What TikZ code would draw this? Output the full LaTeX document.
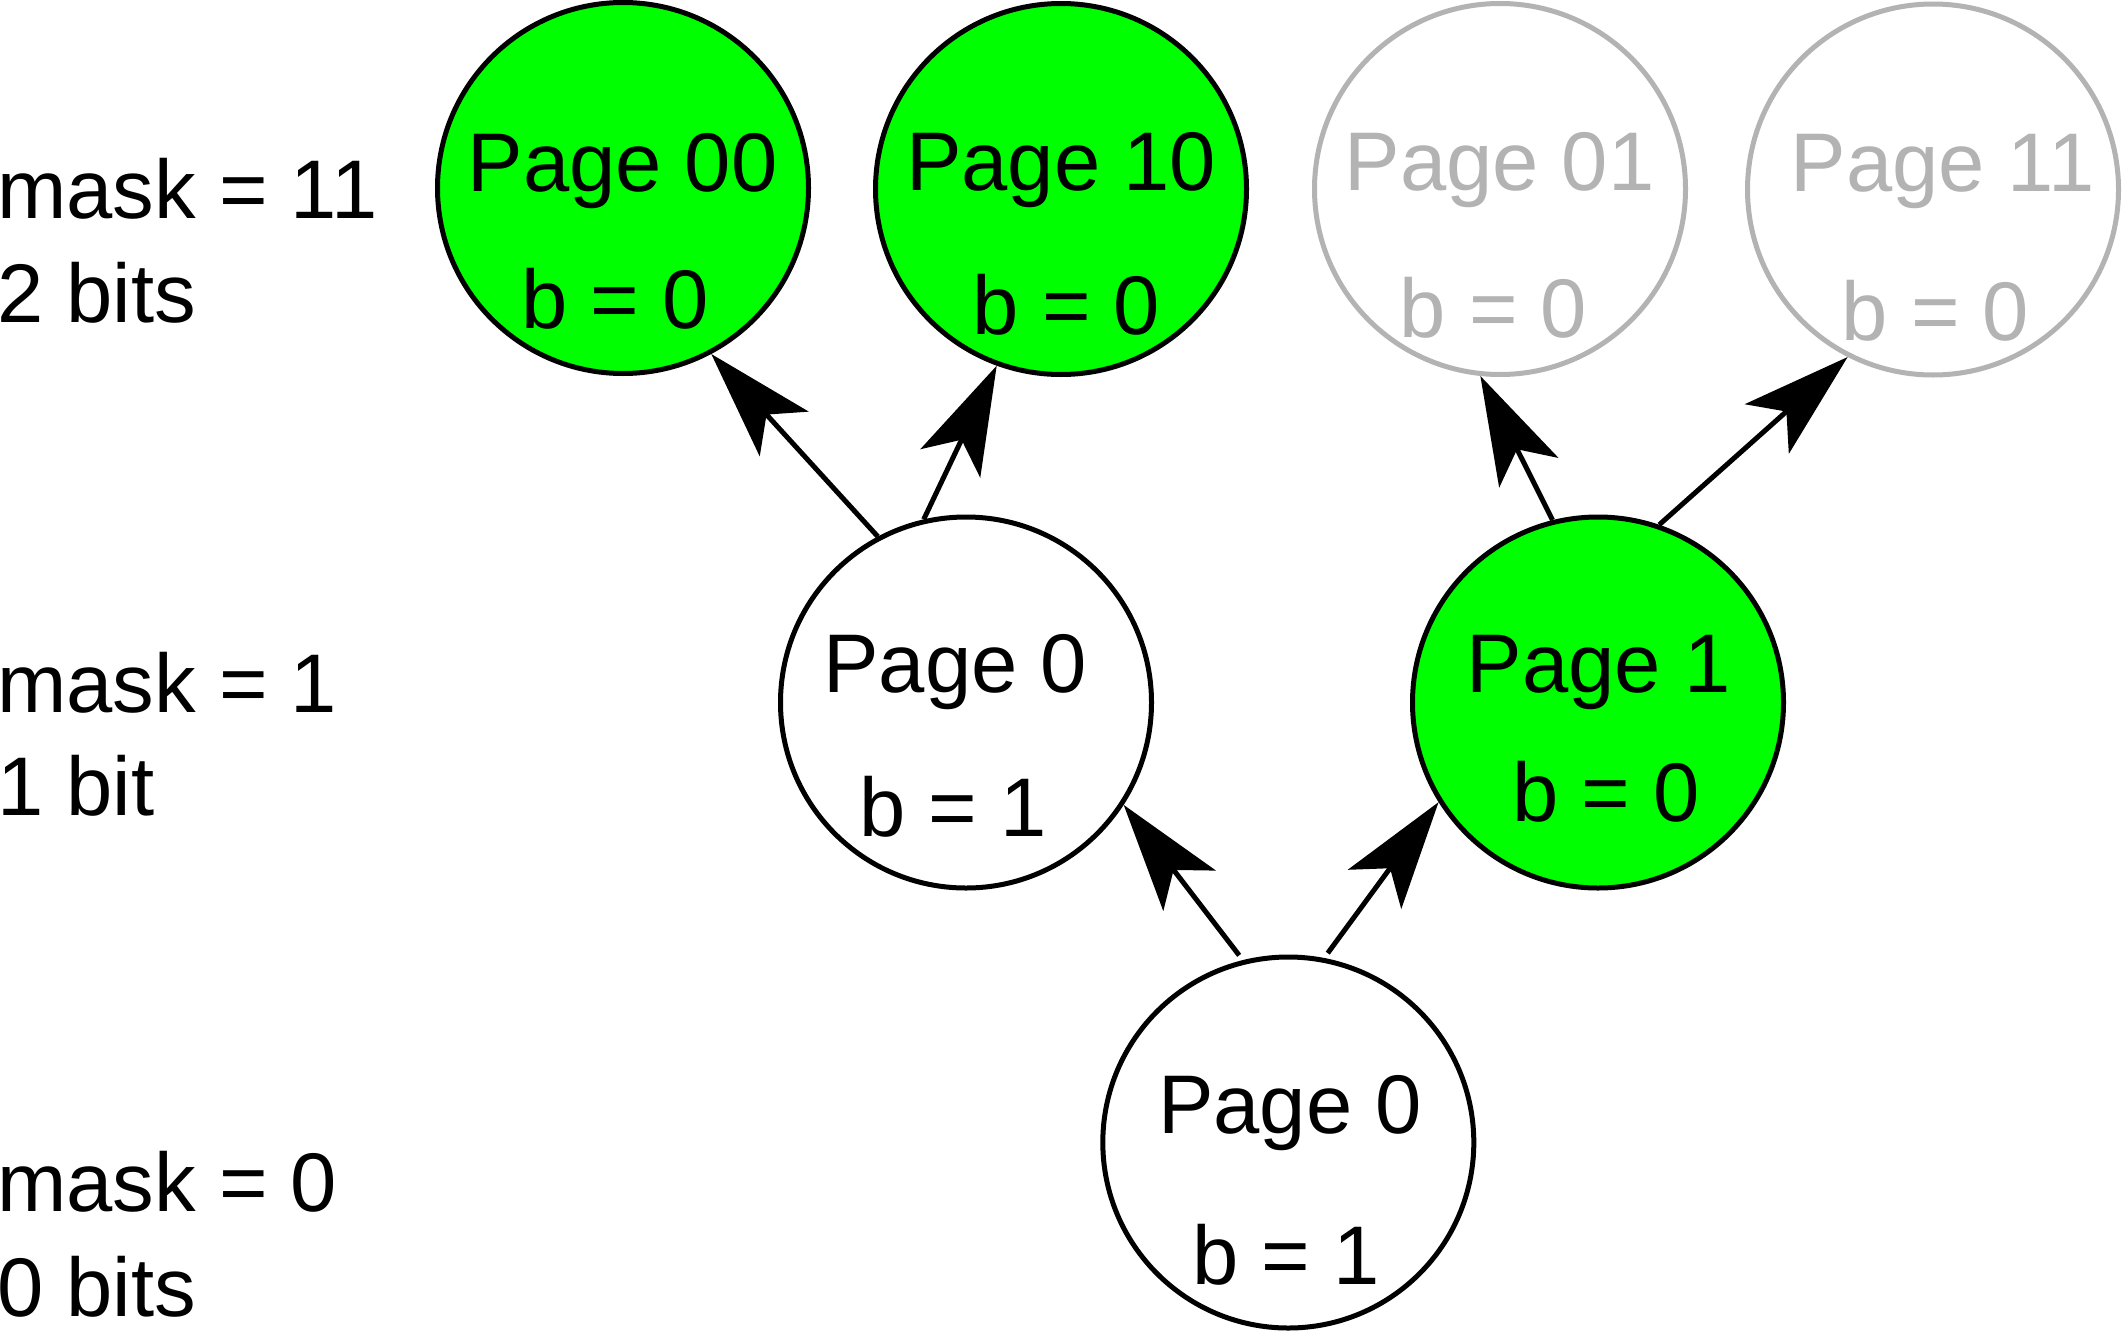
\documentclass[tikz,border=0pt]{standalone}
\usepackage{fontspec}
\setmainfont{Liberation Sans}
\usetikzlibrary{arrows.meta,calc}
\definecolor{pgreen}{HTML}{00FF00}
\definecolor{pgray}{HTML}{B3B3B3}
\begin{document}
\begin{tikzpicture}[x=0.5pt,y=-0.5pt,
  pagecirc/.style={circle,draw=black,line width=2.5pt,minimum size=185.5pt,inner sep=0pt},
  active/.style={pagecirc,fill=pgreen},
  plain/.style={pagecirc,fill=white},
  ghost/.style={pagecirc,draw=pgray,fill=white},
  txt/.style={font=\fontsize{41.6pt}{49pt}\selectfont,inner sep=0pt,anchor=base},
  gtxt/.style={txt,text=pgray},
  lbl/.style={font=\fontsize{41.6pt}{49pt}\selectfont,inner sep=0pt,anchor=base west},
  arr/.style={line width=2.5pt,-{Stealth[length=54pt,width=33pt,inset=13pt]}}
]
\useasboundingbox (0,0) rectangle (2124,1333);
\fill[white] (0,0) rectangle (2124,1333);

% circles
\node[active] (p00) at (623,188) {};
\node[active] (p10) at (1061,189) {};
\node[ghost]  (p01) at (1500,189) {};
\node[ghost]  (p11) at (1933,189.5) {};
\node[plain]  (m0)  at (966,702.5) {};
\node[active] (p1)  at (1598,702.5) {};
\node[plain]  (b0)  at (1288.3,1142.5) {};

% texts in circles
\node[txt] (p00a) at (622.5,191.7) {Page 00};
\node[txt] (p00b) at (615,328) {b = 0};
\node[txt] (p10a) at (1061,190.7) {Page 10};
\node[txt] (p10b) at (1066.6,334) {b = 0};
\node[gtxt] (p01a) at (1499.5,190.7) {Page 01};
\node[gtxt] (p01b) at (1493.5,337) {b = 0};
\node[gtxt] (p11a) at (1942.5,191.7) {Page 11};
\node[gtxt] (p11b) at (1935.5,340.7) {b = 0};
\node[txt] (m0a) at (955.3,692.7) {Page 0};
\node[txt] (m0b) at (953,836.7) {b = 1};
\node[txt] (p1a) at (1598.8,692.7) {Page 1};
\node[txt] (p1b) at (1606,821.7) {b = 0};
\node[txt] (b0a) at (1290,1133.3) {Page 0};
\node[txt] (b0b) at (1286.3,1284.3) {b = 1};

% left labels
\node[lbl] (l1a) at (-3,218.3) {mask = 11};
\node[lbl] (l1b) at (-3,322.7) {2 bits};
\node[lbl] (l2a) at (-3,712.7) {mask = 1};
\node[lbl] (l2b) at (-3,815.4) {1 bit};
\node[lbl] (l3a) at (-3,1211.3) {mask = 0};
\node[lbl] (l3b) at (-3,1316) {0 bits};

% arrows
\draw[arr] (m0.118.8) -- (p00.-62.2);
\draw[arr] (m0.103.5) -- (p10.250.3);
\draw[arr] (p1.104.7) -- (p01.264);
\draw[arr] (p1.71.6) -- (p11.243.2);
\draw[arr,shorten <=3pt] (b0.104.8) -- (m0.-33.9);
\draw[arr,shorten <=3pt] (b0.79.6) -- (p1.212);
\end{tikzpicture}
\end{document}
